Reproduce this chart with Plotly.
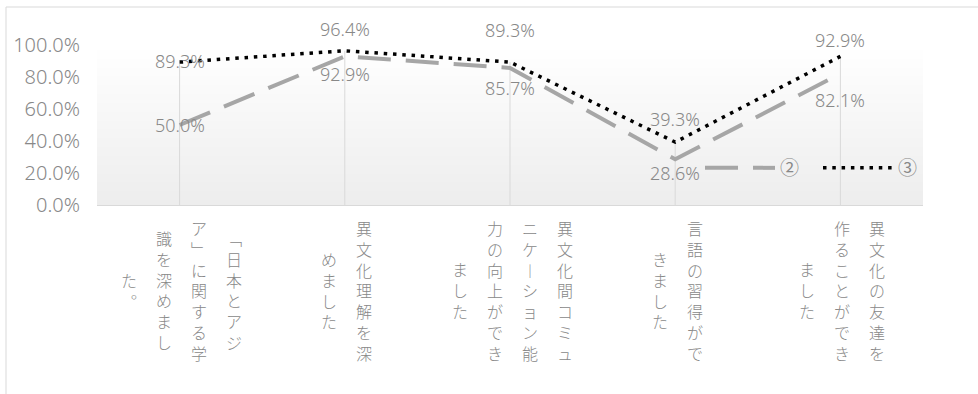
import base64
import struct
import zlib

import plotly.graph_objects as go

# ---- data -------------------------------------------------------------
# Category labels; "\n" marks where each vertical column breaks.
categories = [
    "「日本とアジ\nア」に関する学\n識を深めまし\nた。",
    "異文化理解を深\nめました",
    "異文化間コミュ\nニケーション能\n力の向上ができ\nました",
    "言語の習得がで\nきました",
    "異文化の友達を\n作ることができ\nました",
]
series_names = ["②", "③"]
series_2 = [50.0, 92.9, 85.7, 28.6, 82.1]
series_3 = [89.3, 96.4, 89.3, 39.3, 92.9]
y_tick_values = [0, 20, 40, 60, 80, 100]

# ---- styling ----------------------------------------------------------
W, H = 978, 394
PL, PR, PT, PB = 97, 923, 45, 205          # plot area in pixels
GREY_TEXT = "#888888"
NUM_FONT = "Noto Sans, Liberation Sans, sans-serif"
JP_FONT = "Noto Sans CJK JP, Noto Sans, sans-serif"

# vertical offsets (px, up is positive) for each value label
label_shift_2 = [0, -18, -20, -14, -26]
label_shift_3 = [1, 22, 32, 23, 16]

# glyphs substituted for their vertical-writing forms
VERTICAL_FORMS = {"「": "﹁", "」": "﹂", "ー": "︱", "。": "︒"}


def gradient_png(top, bottom, h=160):
    raw = b""
    for i in range(h):
        t = i / (h - 1)
        raw += b"\x00" + bytes(round(top[k] + (bottom[k] - top[k]) * t) for k in range(3))

    def chunk(tag, data):
        return (struct.pack(">I", len(data)) + tag + data
                + struct.pack(">I", zlib.crc32(tag + data) & 0xFFFFFFFF))

    png = (b"\x89PNG\r\n\x1a\n"
           + chunk(b"IHDR", struct.pack(">IIBBBBB", 1, h, 8, 2, 0, 0, 0))
           + chunk(b"IDAT", zlib.compress(raw))
           + chunk(b"IEND", b""))
    return "data:image/png;base64," + base64.b64encode(png).decode()


x_idx = list(range(len(categories)))
drop_top = [max(a, b) - a for a, b in zip(series_2, series_3)]

fig = go.Figure()
fig.add_trace(go.Scatter(
    x=x_idx, y=series_2, name=series_names[0], mode="lines",
    line=dict(color="#a6a6a6", width=4, dash="33px,15px"),
    error_y=dict(type="data", symmetric=False, array=drop_top, arrayminus=series_2,
                 color="#d9d9d9", thickness=1, width=0),
    cliponaxis=False, hoverinfo="skip",
))
fig.add_trace(go.Scatter(
    x=x_idx, y=series_3, name=series_names[1], mode="lines",
    line=dict(color="#000000", width=3.5, dash="3.5px,5.8px"),
    cliponaxis=False, hoverinfo="skip",
))

annotations = []
# value labels
for vals, shifts in ((series_2, label_shift_2), (series_3, label_shift_3)):
    for i, (v, s) in enumerate(zip(vals, shifts)):
        annotations.append(dict(
            x=i, y=v, xref="x", yref="y", text=f"{v:.1f}%", showarrow=False,
            yshift=s, xanchor="center", yanchor="middle",
            font=dict(family=NUM_FONT, size=18, color=GREY_TEXT, weight=300),
        ))

# vertical category labels, one stacked column each, running right to left
COL_GAP, LABEL_MID = 35, 290
for i, cat in enumerate(categories):
    cols = cat.split("\n")
    nc = len(cols)
    for j, col in enumerate(cols):
        dx = ((nc - 1) / 2 - j) * COL_GAP + 2
        annotations.append(dict(
            x=i, y=0, xref="x", yref="paper",
            text="<br>".join(VERTICAL_FORMS.get(ch, ch) for ch in col),
            showarrow=False, xshift=dx, yshift=PB - LABEL_MID,
            xanchor="center", yanchor="middle", align="center",
            font=dict(family=JP_FONT, size=16, color=GREY_TEXT, weight=300),
        ))

pw, ph = PR - PL, PB - PT
px_x = lambda px: (px - PL) / pw
px_y = lambda py: (PB - py) / ph

fig.update_layout(
    width=W, height=H,
    margin=dict(l=PL, r=W - PR, t=PT, b=H - PB, autoexpand=False),
    paper_bgcolor="#ffffff", plot_bgcolor="#ffffff",
    showlegend=True,
    legend=dict(
        orientation="h", x=px_x(700), y=px_y(168), xanchor="left", yanchor="middle",
        itemwidth=70, entrywidth=33, entrywidthmode="pixels",
        font=dict(family=JP_FONT, size=19, color=GREY_TEXT),
        bgcolor="rgba(0,0,0,0)", borderwidth=0,
    ),
    xaxis=dict(
        type="linear", range=[-0.5, len(categories) - 0.5],
        showticklabels=False, showgrid=False, zeroline=False, ticks="",
        showline=True, linecolor="#d9d9d9", linewidth=1,
    ),
    yaxis=dict(
        range=[0, 100], tickvals=y_tick_values,
        ticktext=[f"{v:.1f}%" for v in y_tick_values],
        showgrid=False, zeroline=False, showline=False, ticks="",
        ticklabelstandoff=16,
        tickfont=dict(family=NUM_FONT, size=20, color=GREY_TEXT, weight=300),
    ),
    images=[dict(
        source=gradient_png((255, 255, 255), (237, 237, 237)),
        xref="paper", yref="paper", x=0, y=1, sizex=1, sizey=1,
        xanchor="left", yanchor="top", sizing="stretch", layer="below",
    )],
    shapes=[dict(
        type="rect", xref="paper", yref="paper",
        x0=px_x(6), x1=px_x(W + 20), y0=px_y(H + 20), y1=px_y(7),
        line=dict(color="#d9d9d9", width=1), fillcolor="rgba(0,0,0,0)", layer="below",
    )],
    annotations=annotations,
    hovermode=False,
)

fig.write_html("out.html")
